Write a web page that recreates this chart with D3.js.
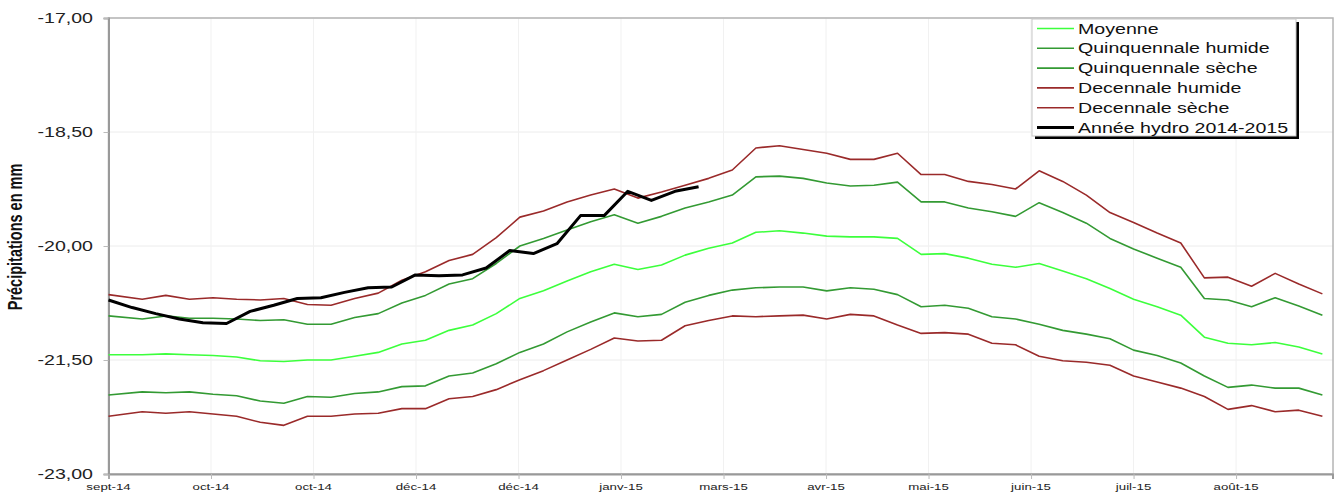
<!DOCTYPE html>
<html><head><meta charset="utf-8">
<script src="https://cdn.jsdelivr.net/npm/d3@7"></script>
<style>
html,body{margin:0;padding:0;background:#fff;}
svg{display:block;font-family:"Liberation Sans",Arial,sans-serif;}
</style></head>
<body><svg id="chart" width="1340" height="493"></svg>
<script>
// ---- data ----
const refDates = ["2014-09-01","2014-09-11","2014-09-18","2014-09-25","2014-10-02","2014-10-09","2014-10-16","2014-10-23","2014-10-30","2014-11-06","2014-11-13","2014-11-20","2014-11-27","2014-12-04","2014-12-11","2014-12-18","2014-12-25","2015-01-01","2015-01-08","2015-01-15","2015-01-22","2015-01-29","2015-02-05","2015-02-12","2015-02-19","2015-02-26","2015-03-05","2015-03-12","2015-03-19","2015-03-26","2015-04-02","2015-04-09","2015-04-16","2015-04-23","2015-04-30","2015-05-07","2015-05-14","2015-05-21","2015-05-28","2015-06-04","2015-06-11","2015-06-18","2015-06-25","2015-07-02","2015-07-09","2015-07-16","2015-07-23","2015-07-30","2015-08-06","2015-08-13","2015-08-20","2015-08-27"];
const yearDates = ["2014-09-01","2014-09-08","2014-09-15","2014-09-22","2014-09-29","2014-10-06","2014-10-13","2014-10-20","2014-10-27","2014-11-03","2014-11-10","2014-11-17","2014-11-24","2014-12-01","2014-12-08","2014-12-15","2014-12-22","2014-12-29","2015-01-05","2015-01-12","2015-01-19","2015-01-26","2015-02-02","2015-02-09","2015-02-16","2015-02-23"];

const moyenne = [-21.43,-21.43,-21.42,-21.43,-21.44,-21.46,-21.51,-21.52,-21.50,-21.50,-21.45,-21.40,-21.29,-21.24,-21.11,-21.04,-20.89,-20.69,-20.59,-20.46,-20.34,-20.24,-20.31,-20.25,-20.12,-20.03,-19.96,-19.82,-19.80,-19.83,-19.87,-19.88,-19.88,-19.90,-20.11,-20.10,-20.16,-20.24,-20.28,-20.23,-20.33,-20.43,-20.56,-20.70,-20.80,-20.91,-21.20,-21.28,-21.30,-21.27,-21.33,-21.42];
const quinqHumide = [-20.92,-20.96,-20.92,-20.95,-20.95,-20.96,-20.98,-20.97,-21.03,-21.03,-20.94,-20.89,-20.75,-20.65,-20.50,-20.43,-20.23,-20.00,-19.90,-19.79,-19.68,-19.59,-19.70,-19.61,-19.50,-19.42,-19.33,-19.09,-19.08,-19.11,-19.17,-19.21,-19.20,-19.16,-19.42,-19.42,-19.50,-19.55,-19.61,-19.43,-19.56,-19.70,-19.90,-20.04,-20.16,-20.28,-20.69,-20.71,-20.80,-20.68,-20.79,-20.91];
const quinqSeche = [-21.96,-21.92,-21.93,-21.92,-21.95,-21.97,-22.04,-22.07,-21.98,-21.99,-21.94,-21.92,-21.85,-21.84,-21.71,-21.67,-21.55,-21.40,-21.29,-21.13,-21.00,-20.88,-20.93,-20.90,-20.74,-20.65,-20.58,-20.55,-20.54,-20.54,-20.59,-20.55,-20.57,-20.64,-20.80,-20.78,-20.82,-20.93,-20.96,-21.03,-21.11,-21.16,-21.22,-21.37,-21.44,-21.54,-21.71,-21.86,-21.83,-21.87,-21.87,-21.96];
const decHumide = [-20.64,-20.70,-20.65,-20.70,-20.68,-20.70,-20.71,-20.69,-20.77,-20.78,-20.69,-20.62,-20.45,-20.34,-20.19,-20.11,-19.89,-19.62,-19.54,-19.42,-19.33,-19.25,-19.37,-19.29,-19.20,-19.11,-19.00,-18.71,-18.68,-18.73,-18.78,-18.86,-18.86,-18.78,-19.06,-19.06,-19.15,-19.19,-19.25,-19.01,-19.15,-19.33,-19.56,-19.69,-19.83,-19.96,-20.42,-20.41,-20.53,-20.36,-20.50,-20.63];
const decSeche = [-22.24,-22.18,-22.20,-22.18,-22.21,-22.24,-22.32,-22.36,-22.24,-22.24,-22.21,-22.20,-22.14,-22.14,-22.01,-21.98,-21.89,-21.76,-21.64,-21.50,-21.36,-21.21,-21.25,-21.24,-21.05,-20.98,-20.92,-20.93,-20.92,-20.91,-20.96,-20.90,-20.92,-21.04,-21.15,-21.14,-21.16,-21.28,-21.30,-21.45,-21.51,-21.53,-21.57,-21.71,-21.79,-21.87,-21.98,-22.15,-22.10,-22.18,-22.16,-22.24];
const annee = [-20.71,-20.81,-20.89,-20.96,-21.01,-21.02,-20.86,-20.78,-20.69,-20.68,-20.61,-20.55,-20.54,-20.38,-20.39,-20.38,-20.29,-20.06,-20.10,-19.97,-19.60,-19.60,-19.28,-19.40,-19.28,-19.22];

const xTickLabels = ["sept-14","oct-14","oct-14","déc-14","déc-14","janv-15","mars-15","avr-15","mai-15","juin-15","juil-15","août-15"];
const yTickValues = [-17, -18.5, -20, -21.5, -23];
const seriesNames = ["Moyenne","Quinquennale humide","Quinquennale sèche","Decennale humide","Decennale sèche","Année hydro 2014-2015"];

// ---- layout ----
const L = 108.5, R = 1333, T = 18, B = 474;
const STRETCH = 1.4;
const svg = d3.select("#chart");
const parse = d3.utcParse("%Y-%m-%d");
const start = parse("2014-09-01"), end = parse("2015-08-30");
const x = d3.scaleUtc().domain([start, end]).range([L, R - 0.5]);
const y = d3.scaleLinear().domain([-23, -17]).range([B, T]);
const tickDates = xTickLabels.map((_, i) => new Date(start.getTime() + i * 30.4 * 864e5));

// grid
const g = svg.append("g");
g.selectAll(".hg").data(yTickValues).join("line")
  .attr("x1", L).attr("x2", R).attr("y1", d => y(d)).attr("y2", d => y(d))
  .attr("stroke", "#ececec").attr("stroke-width", 1);
g.selectAll(".vg").data(tickDates).join("line")
  .attr("x1", d => x(d)).attr("x2", d => x(d)).attr("y1", T).attr("y2", B)
  .attr("stroke", "#f1f1f1").attr("stroke-width", 1);

// frame
svg.append("rect").attr("x", L).attr("y", T).attr("width", R - L).attr("height", B - T)
  .attr("fill", "none").attr("stroke", "#b4b4b4").attr("stroke-width", 1.5);

// axes
const yAxis = d3.axisLeft(y).tickValues(yTickValues).tickSize(5).tickFormat(() => "");
const ya = svg.append("g").attr("transform", `translate(${L},0)`).call(yAxis);
ya.select(".domain").attr("stroke", "#999").attr("stroke-width", 2);
ya.selectAll(".tick line").attr("stroke", "#bbb");
const xAxis = d3.axisBottom(x).tickValues(tickDates).tickSize(5).tickFormat(() => "");
const xa = svg.append("g").attr("transform", `translate(0,${B})`).call(xAxis);
xa.select(".domain").attr("stroke", "#999").attr("stroke-width", 2);
xa.selectAll(".tick line").attr("stroke", "#bbb");

const fmt = v => v.toFixed(2).replace(".", ",");
svg.selectAll(".ylab").data(yTickValues).join("g")
  .attr("transform", d => `translate(93,${y(d) + 5}) scale(${STRETCH},1)`)
  .append("text").attr("text-anchor", "end").attr("font-size", 14).attr("fill", "#222")
  .text(d => fmt(d));
svg.selectAll(".xlab").data(tickDates).join("g")
  .attr("transform", (d) => `translate(${x(d)},${B + 16}) scale(${STRETCH},1)`)
  .append("text").attr("text-anchor", "middle").attr("font-size", 9.5).attr("fill", "#222")
  .text((d, i) => xTickLabels[i]);

// y title
svg.append("g").attr("transform", `translate(22,237) scale(${STRETCH},1) rotate(-90)`)
  .append("text").attr("text-anchor", "middle").attr("font-size", 14.5).attr("font-weight", "bold")
  .attr("fill", "#111").text("Précipitations en mm");

// lines
const colors = ["#3cff3c", "#339a33", "#339a33", "#9a2a2a", "#9a2a2a", "#000"];
const widths = [1.6, 1.6, 1.6, 1.6, 1.6, 3];
const refDatesP = refDates.map(parse), yearDatesP = yearDates.map(parse);
const allSeries = [moyenne, quinqHumide, quinqSeche, decHumide, decSeche];
const line = d3.line().x(d => x(d[0])).y(d => y(d[1]));
allSeries.forEach((s, i) => {
  svg.append("path").datum(s.map((v, k) => [refDatesP[k], v]))
    .attr("d", line).attr("fill", "none").attr("stroke", colors[i]).attr("stroke-width", widths[i])
    .attr("stroke-linejoin", "round");
});
svg.append("path").datum(annee.map((v, k) => [yearDatesP[k], v]))
  .attr("d", line).attr("fill", "none").attr("stroke", colors[5]).attr("stroke-width", widths[5])
  .attr("stroke-linejoin", "round");

// legend
const lg = svg.append("g");
lg.append("rect").attr("x", 1035).attr("y", 22).attr("width", 264).attr("height", 117).attr("fill", "#000");
lg.append("rect").attr("x", 1032).attr("y", 19).attr("width", 264).attr("height", 117)
  .attr("fill", "#fff").attr("stroke", "#c8c8c8").attr("stroke-width", 1);
seriesNames.forEach((n, i) => {
  const yy = 28.5 + i * 19.8;
  lg.append("line").attr("x1", 1037).attr("x2", 1074).attr("y1", yy).attr("y2", yy)
    .attr("stroke", colors[i]).attr("stroke-width", i === 5 ? 3 : 1.6);
  lg.append("g").attr("transform", `translate(1078,${yy + 5}) scale(${STRETCH},1)`)
    .append("text").attr("font-size", 14).attr("fill", "#111").text(n);
});
</script></body></html>
